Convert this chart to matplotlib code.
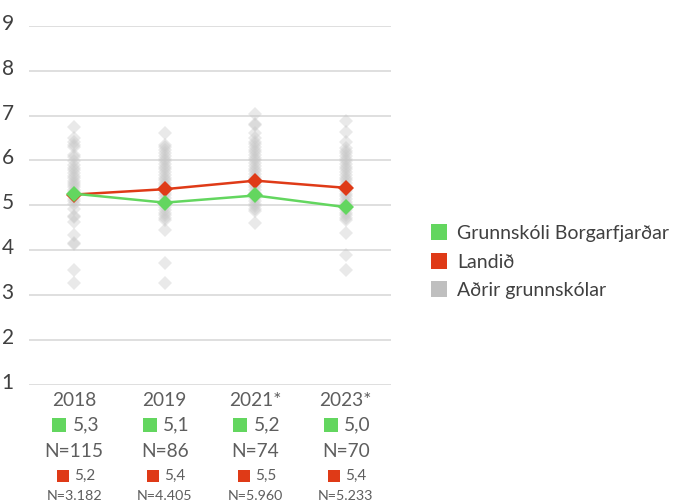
import numpy as np
import matplotlib.pyplot as plt
from matplotlib.lines import Line2D
import matplotlib.transforms as mtransforms

# Years and summary values.
years = ['2018', '2019', '2021*', '2023*']
schoolMean = [5.26, 5.06, 5.22, 4.96]      # Grunnskóli Borgarfjarðar
schoolN = [115, 86, 74, 70]
countryMean = [5.24, 5.36, 5.55, 5.39]     # Landið
countryN = ['3.182', '4.405', '5.960', '5.233']

# Means of the other schools, one list per year.
others2018 = [6.74, 6.5, 6.42, 6.35, 6.31, 6.13, 6.08, 5.98, 5.9, 5.84, 5.78, 5.72,
              5.66, 5.6, 5.55, 5.5, 5.45, 5.4, 5.35, 5.3, 5.22, 5.15, 5.1, 5.02,
              4.92, 4.76, 4.74, 4.62, 4.35, 4.16, 4.13, 3.57, 3.27]
others2019 = [6.62, 6.35, 6.3, 6.24, 6.17, 6.1, 6.03, 5.98, 5.92, 5.86, 5.8, 5.74,
              5.68, 5.62, 5.56, 5.5, 5.45, 5.4, 5.34, 5.28, 5.22, 5.16, 5.1, 5.02,
              4.96, 4.9, 4.84, 4.78, 4.72, 4.68, 4.46, 3.72, 3.28]
others2021 = [7.03, 6.82, 6.78, 6.61, 6.5, 6.42, 6.36, 6.3, 6.24, 6.18, 6.12, 6.06,
              6.0, 5.94, 5.88, 5.82, 5.76, 5.7, 5.64, 5.58, 5.52, 5.46, 5.4, 5.34,
              5.28, 5.22, 5.16, 5.1, 5.04, 4.98, 4.92, 4.87, 4.6]
others2023 = [6.87, 6.64, 6.42, 6.28, 6.22, 6.16, 6.1, 6.04, 5.98, 5.92, 5.86, 5.8,
              5.74, 5.68, 5.62, 5.56, 5.5, 5.44, 5.38, 5.32, 5.26, 5.2, 5.14, 5.08,
              5.02, 4.96, 4.9, 4.84, 4.78, 4.72, 4.68, 4.39, 3.9, 3.57]
others = [others2018, others2019, others2021, others2023]

green = '#63D65F'
red = '#DF3A17'
grey = '#C8C8C8'
textGrey = '#5E5E5E'
font = 'Lato'

fig = plt.figure(figsize=(6.77, 5.04), dpi=100)
ax = fig.add_axes([29 / 677, 1 - 385 / 504, 362 / 677, (385 - 25.7) / 504])

x = np.arange(len(years))

# Other schools as faint diamonds.
for i, vals in enumerate(others):
    ax.plot(np.full(len(vals), i), vals, 'D', color=grey, alpha=0.4,
            markersize=7, markeredgewidth=0, clip_on=False, zorder=2)

ax.plot(x, countryMean, '-D', color=red, linewidth=1.8, markersize=8.5,
        markeredgewidth=0, clip_on=False, zorder=3)
ax.plot(x, schoolMean, '-D', color=green, linewidth=1.8, markersize=8.5,
        markeredgewidth=0, clip_on=False, zorder=4)

ax.set_xlim(-0.5, len(years) - 0.5)
ax.set_ylim(1, 9)
ax.set_yticks(range(1, 10))
ax.set_xticks([])
ax.grid(axis='y', color='#D9D9D9', linewidth=1.2)
ax.set_axisbelow(True)
for s in ax.spines.values():
    s.set_visible(False)
ax.tick_params(axis='y', length=0, pad=11, labelsize=15, labelcolor='#404040')
shift = mtransforms.ScaledTranslation(0, 4 / 100, fig.dpi_scale_trans)
for lab in ax.get_yticklabels():
    lab.set_fontfamily(font)
    lab.set_transform(lab.get_transform() + shift)

# Table of values under each year.
trans = mtransforms.blended_transform_factory(ax.transData, fig.transFigure)
for i in x:
    ax.text(i, 1 - 400.5 / 504, years[i], transform=trans, ha='center', va='center',
            fontsize=13.8, color=textGrey, family=font)
    ax.plot([i - 0.165], [1 - 425 / 504], 's', color=green, markersize=10,
            markeredgewidth=0, transform=trans, clip_on=False)
    ax.text(i - 0.02, 1 - 425 / 504, f'{schoolMean[i]:.1f}'.replace('.', ','),
            transform=trans, ha='left', va='center', fontsize=13.8,
            color=textGrey, family=font)
    ax.text(i, 1 - 451.5 / 504, f'N={schoolN[i]}', transform=trans, ha='center',
            va='center', fontsize=13.8, color=textGrey, family=font)
    ax.plot([i - 0.127], [1 - 476 / 504], 's', color=red, markersize=8,
            markeredgewidth=0, transform=trans, clip_on=False)
    ax.text(i - 0.002, 1 - 476 / 504, f'{countryMean[i]:.1f}'.replace('.', ','),
            transform=trans, ha='left', va='center', fontsize=11,
            color=textGrey, family=font)
    ax.text(i, 1 - 496 / 504, f'N={countryN[i]}', transform=trans, ha='center',
            va='center', fontsize=10.3, color=textGrey, family=font)

handles = [Line2D([], [], marker='s', linestyle='none', color=green, markersize=11,
                  markeredgewidth=0, label='Grunnskóli Borgarfjarðar'),
           Line2D([], [], marker='s', linestyle='none', color=red, markersize=11,
                  markeredgewidth=0, label='Landið'),
           Line2D([], [], marker='s', linestyle='none', color='#BFBFBF', markersize=11,
                  markeredgewidth=0, label='Aðrir grunnskólar')]
fig.legend(handles=handles, loc='center left', bbox_to_anchor=(414 / 677, 1 - 262 / 504),
           frameon=False, handlelength=0.8, handletextpad=0.5, labelspacing=0.6,
           prop={'family': font, 'size': 14}, labelcolor='#404040')

fig.savefig('out.png', dpi=100)
